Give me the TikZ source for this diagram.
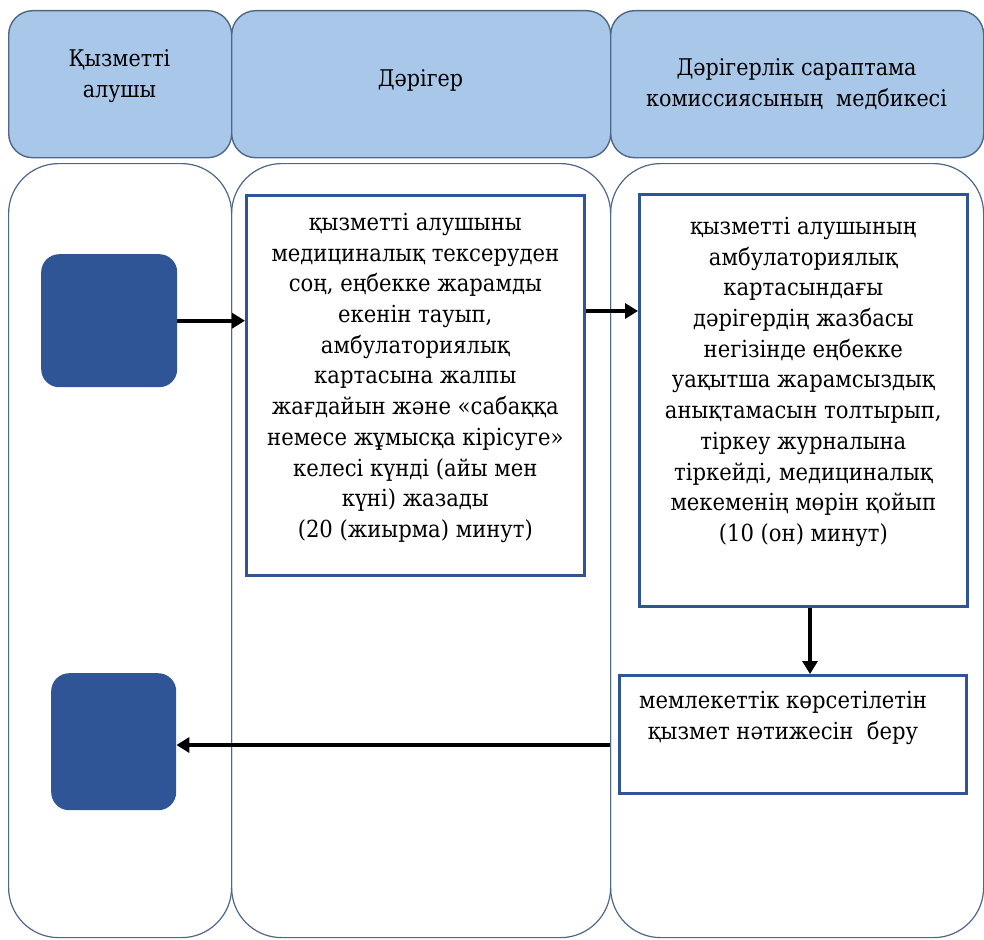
\documentclass[tikz,border=0pt]{standalone}
\usepackage{fontspec}
\setmainfont{DejaVu Serif Condensed}
\usetikzlibrary{arrows.meta,positioning}

\definecolor{headblue}{HTML}{A9C7E8}
\definecolor{laneline}{HTML}{4E6786}
\definecolor{darkblue}{HTML}{2F5597}

\tikzset{
  lanehead/.style={draw=laneline, fill=headblue, line width=1.4pt, rounded corners=24pt, inner sep=0pt},
  lanebody/.style={draw=laneline, line width=1.2pt, rounded corners=50pt, inner sep=0pt},
  headtext/.style={align=center, inner sep=0pt, font=\fontsize{23}{31}\selectfont},
  endbox/.style={fill=darkblue, rounded corners=18pt, inner sep=0pt},
  stepbox/.style={draw=darkblue, line width=2.6pt, inner sep=0pt},
  boxtext/.style={align=center, inner sep=0pt, font=\fontsize{23.5}{30.7}\selectfont},
  flow/.style={line width=4.2pt, -{Triangle[length=13pt,width=15pt]}}
}

\begin{document}
\begin{tikzpicture}[x=1pt,y=-1pt]
\useasboundingbox (0,0) rectangle (984,939);

% swimlanes
\foreach \n/\x/\w/\ty/\t in {1/8/223/76/{Қызметті\\алушы},
                              2/231/379/80/{Дәрігер},
                              3/610/373/84/{Дәрігерлік сараптама\\комиссиясының\ \ медбикесі}}
  {\node[lanebody, minimum width=\w pt, minimum height=774pt, anchor=north west] (lane\n) at (\x,163) {};
   \node[lanehead, minimum width=\w pt, minimum height=147pt, anchor=north west] (head\n) at (\x,10) {};
   \node[headtext] (title\n) at (\x+\w/2,\ty) {\t};}

% start and end
\node[endbox, minimum width=136pt, minimum height=133pt, anchor=north west] (start) at (41,254) {};
\node[endbox, minimum width=125pt, minimum height=137pt, anchor=north west] (finish) at (51,673) {};

% steps
\node[stepbox, minimum width=338pt, minimum height=380pt, anchor=north west] (doctor) at (245,194) {};
\node[boxtext, below=19pt of doctor.north] (doctortext)
  {қызметті алушыны\\
   медициналық тексеруден\\
   соң, еңбекке жарамды\\
   екенін тауып,\\
   амбулаториялық\\
   картасына жалпы\\
   жағдайын және «сабаққа\\
   немесе жұмысқа кірісуге»\\
   келесі күнді (айы мен\\
   күні) жазады\\
   (20 (жиырма) минут)};

\node[stepbox, minimum width=328pt, minimum height=412pt, anchor=north west] (nurse) at (638,193) {};
\node[boxtext, below=24pt of nurse.north] (nursetext)
  {қызметті алушының\\
   амбулаториялық\\
   картасындағы\\
   дәрігердің жазбасы\\
   негізінде еңбекке\\
   уақытша жарамсыздық\\
   анықтамасын толтырып,\\
   тіркеу журналына\\
   тіркейді, медициналық\\
   мекеменің мөрін қойып\\
   (10 (он) минут)};

\node[stepbox, minimum width=347pt, minimum height=118pt, anchor=north west] (result) at (618,674) {};
\node[boxtext] (resulttext) at (783,718)
  {мемлекеттік көрсетілетін\\
   қызмет нәтижесін\ \ беру};

% arrows
\draw[flow] (start.east) -- (start.east -| doctor.west);
\draw[flow] (doctor.east |- 0,311) -- (nurse.west |- 0,311);
\draw[flow] (nurse.south -| 810,0) -- (result.north -| 810,0);
\draw[flow] (lane3.west |- 0,745) -- (finish.east |- 0,745);

\end{tikzpicture}
\end{document}
